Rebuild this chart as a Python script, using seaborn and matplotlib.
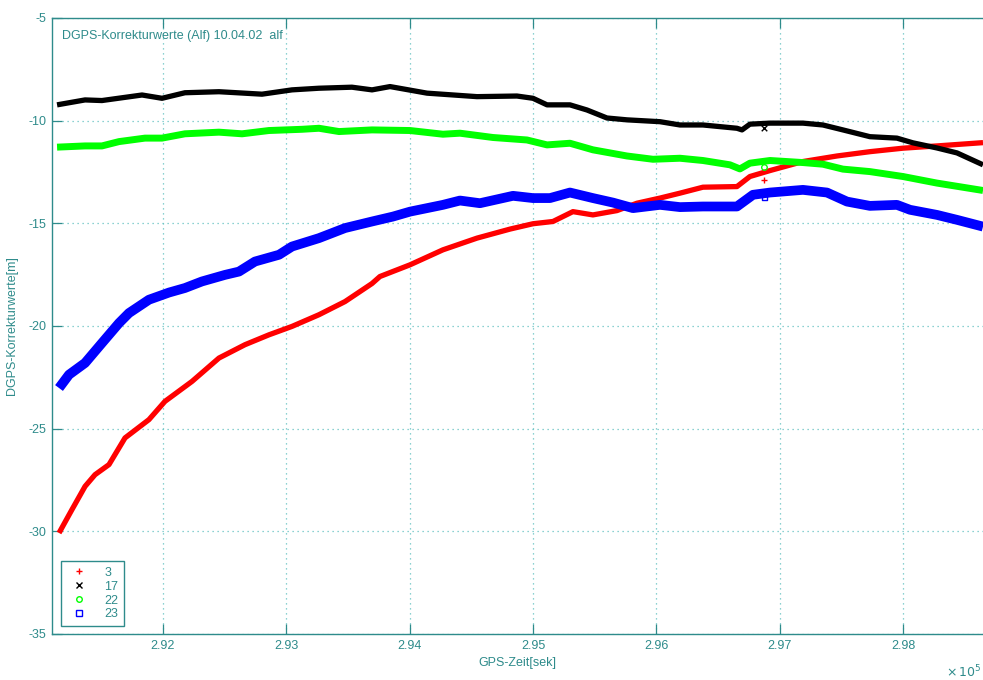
import matplotlib
matplotlib.use("Agg")
import matplotlib.pyplot as plt
import numpy as np
import pandas as pd
import seaborn as sns
from matplotlib.lines import Line2D

# GPS time [s] and DGPS correction values [m] per satellite (PRN)
t_sv3 = [291157, 291262, 291368, 291449, 291562, 291692, 291886, 292016, 292235,
         292454, 292665, 292859, 293046, 293265, 293476, 293695, 293759, 294003,
         294270, 294546, 294814, 295000, 295162, 295324, 295486, 295681, 295843,
         296030, 296192, 296378, 296654, 296759, 296922, 297189, 297465, 297732,
         298000, 298276, 298649]
dgps_sv3 = [-30.08, -28.94, -27.81, -27.24, -26.75, -25.45, -24.56, -23.67, -22.70,
            -21.56, -20.91, -20.43, -20.02, -19.45, -18.81, -17.93, -17.59, -17.02,
            -16.29, -15.72, -15.28, -15.02, -14.91, -14.43, -14.59, -14.38, -14.02,
            -13.77, -13.53, -13.24, -13.21, -12.72, -12.43, -11.99, -11.72, -11.51,
            -11.34, -11.23, -11.07]

t_sv17 = [291141, 291368, 291505, 291830, 291992, 292178, 292454, 292803, 293046,
          293265, 293532, 293695, 293841, 294141, 294546, 294870, 295000, 295114,
          295300, 295438, 295600, 295762, 296030, 296192, 296378, 296654, 296695,
          296759, 296922, 297189, 297351, 297513, 297732, 297951, 298081, 298276,
          298438, 298649]
dgps_sv17 = [-9.23, -8.99, -9.02, -8.75, -8.91, -8.64, -8.59, -8.71, -8.50,
             -8.42, -8.37, -8.50, -8.34, -8.66, -8.83, -8.80, -8.91, -9.23,
             -9.23, -9.48, -9.87, -9.96, -10.05, -10.21, -10.21, -10.37, -10.45,
             -10.17, -10.12, -10.12, -10.21, -10.45, -10.78, -10.85, -11.08, -11.33,
             -11.57, -12.15]

t_sv22 = [291141, 291368, 291505, 291643, 291854, 291992, 292178, 292454, 292641,
          292859, 293127, 293265, 293427, 293695, 294003, 294270, 294408, 294676,
          294951, 295114, 295300, 295486, 295762, 295973, 296192, 296378, 296597,
          296678, 296759, 296922, 297189, 297351, 297513, 297732, 298000, 298276,
          298649]
dgps_sv22 = [-11.29, -11.23, -11.23, -11.02, -10.85, -10.85, -10.64, -10.56, -10.64,
             -10.48, -10.42, -10.37, -10.53, -10.45, -10.48, -10.66, -10.61, -10.82,
             -10.94, -11.18, -11.10, -11.42, -11.72, -11.88, -11.83, -11.94, -12.15,
             -12.35, -12.07, -11.94, -12.04, -12.12, -12.36, -12.48, -12.72, -13.04,
             -13.40]

t_sv23 = [291157, 291238, 291368, 291505, 291643, 291724, 291886, 292049, 292178,
          292316, 292503, 292616, 292746, 292941, 293046, 293265, 293476, 293695,
          293865, 294003, 294270, 294408, 294570, 294838, 295000, 295138, 295300,
          295486, 295649, 295811, 296030, 296192, 296378, 296654, 296784, 296922,
          297189, 297384, 297546, 297732, 297951, 298057, 298276, 298438, 298649]
dgps_sv23 = [-23.02, -22.37, -21.80, -20.83, -19.86, -19.37, -18.72, -18.37, -18.15,
             -17.83, -17.51, -17.35, -16.86, -16.53, -16.13, -15.72, -15.23, -14.91,
             -14.67, -14.43, -14.10, -13.89, -14.02, -13.66, -13.77, -13.77, -13.50,
             -13.77, -13.99, -14.26, -14.10, -14.21, -14.18, -14.18, -13.61, -13.50,
             -13.37, -13.50, -13.94, -14.15, -14.10, -14.34, -14.59, -14.83, -15.16]

# single stray epoch off the main tracks
t_stray = 296877
stray_values = {"3": -12.88, "17": -10.37, "22": -12.28, "23": -13.74}

sv_labels = ["3", "17", "22", "23"]
sv_colors = {"3": "#ff0000", "17": "#000000", "22": "#00ff00", "23": "#0000ff"}
sv_markers = {"3": "+", "17": "x", "22": "o", "23": "s"}
sv_widths = {"3": 3.8, "17": 3.8, "22": 5.0, "23": 7.0}

x_ticks = [2.92, 2.93, 2.94, 2.95, 2.96, 2.97, 2.98]
y_ticks = [-5, -10, -15, -20, -25, -30, -35]

axis_color = "#2e8b8b"
grid_color = "#66c2c2"

sns.set_theme(style="white")
plt.rcParams["font.family"] = ["Liberation Sans", "DejaVu Sans"]
plt.rcParams["font.size"] = 9

frames = []
for lab, tt, vv in [("3", t_sv3, dgps_sv3), ("17", t_sv17, dgps_sv17),
                    ("22", t_sv22, dgps_sv22), ("23", t_sv23, dgps_sv23)]:
    frames.append(pd.DataFrame({"t": np.array(tt) / 1e5, "value": vv, "sv": lab}))
df = pd.concat(frames, ignore_index=True)

fig = plt.figure(figsize=(9.83, 6.80), dpi=100)
fig.patch.set_facecolor("white")
ax = fig.add_axes([52 / 983, 1 - 634 / 680, 1 - 52 / 983, (634 - 18) / 680])
ax.set_facecolor("white")

for lab in sv_labels:
    sub = df[df["sv"] == lab]
    sns.lineplot(data=sub, x="t", y="value", ax=ax, color=sv_colors[lab],
                 linewidth=sv_widths[lab], legend=False, sort=False,
                 solid_capstyle="butt", zorder=3)

stray = pd.DataFrame({"t": [t_stray / 1e5] * 4,
                      "value": [stray_values[l] for l in sv_labels],
                      "sv": sv_labels})
for lab in sv_labels:
    s = stray[stray["sv"] == lab]
    mk = sv_markers[lab]
    if mk in ("o", "s"):
        ax.scatter(s["t"], s["value"], marker=mk, s=16, facecolors="none",
                   edgecolors=sv_colors[lab], linewidths=1.0, zorder=4)
    else:
        ax.scatter(s["t"], s["value"], marker=mk, s=16, color=sv_colors[lab],
                   linewidths=1.0, zorder=4)

ax.set_xlim(2.9110, 2.98649)
ax.set_ylim(-35, -5)
ax.set_xticks(x_ticks)
ax.set_xticklabels([f"{v:.2f}" for v in x_ticks])
ax.set_yticks(y_ticks)
ax.set_yticklabels([str(v) for v in y_ticks])

ax.grid(True, linestyle=(0, (1, 3)), color=grid_color, linewidth=0.9, zorder=0)
ax.tick_params(axis="both", direction="in", length=7, width=0.9,
               colors=axis_color, labelcolor=axis_color, labelsize=9,
               top=True, bottom=True, left=True, right=False, pad=4)
for side in ["left", "bottom", "top"]:
    ax.spines[side].set_color(axis_color)
    ax.spines[side].set_linewidth(1.0)
ax.spines["right"].set_visible(False)

ax.set_xlabel("GPS-Zeit[sek]", color=axis_color, fontsize=9, labelpad=4)
ax.set_ylabel("DGPS-Korrekturwerte[m]", color=axis_color, fontsize=9)
ax.yaxis.set_label_coords(-0.0365, 0.5)

ax.text(10 / 931, 1 - 18 / 616, "DGPS-Korrekturwerte (Alf) 10.04.02  alf",
        transform=ax.transAxes, ha="left", va="center", color=axis_color,
        fontsize=9)

# axis scale factor for the time ticks
fig.text(981 / 983, 1 - 672 / 680, r"$\times\,10^{5}$", ha="right", va="center",
         color=axis_color, fontsize=9)

handles = []
for lab in sv_labels:
    mk = sv_markers[lab]
    face = "none" if mk in ("o", "s") else sv_colors[lab]
    handles.append(Line2D([0], [0], linestyle="none", marker=mk, markersize=4,
                          markerfacecolor=face, markeredgecolor=sv_colors[lab],
                          markeredgewidth=1.0, label=lab))
leg = ax.legend(handles=handles, loc="lower left",
                bbox_to_anchor=(9 / 931, 8 / 616), borderaxespad=0,
                fontsize=9, frameon=True, fancybox=False, handlelength=2.0,
                handletextpad=1.0, labelspacing=0.15, borderpad=0.45,
                framealpha=1)
leg.get_frame().set_edgecolor(axis_color)
leg.get_frame().set_linewidth(1.0)
for txt in leg.get_texts():
    txt.set_color(axis_color)

fig.savefig("out.png", dpi=100, facecolor="white")
